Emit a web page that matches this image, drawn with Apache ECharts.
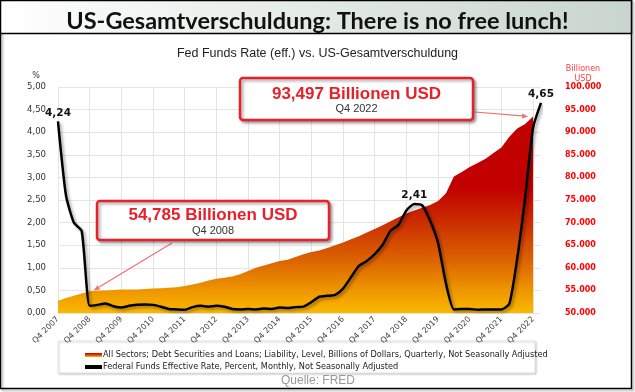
<!DOCTYPE html>
<html><head><meta charset="utf-8">
<script src="https://cdn.jsdelivr.net/npm/echarts@6/dist/echarts.min.js"></script>
<style>html,body{margin:0;padding:0;background:#fff}#c{width:635px;height:392px}</style>
</head><body><div id="c"></div>
<script>
const quarters = ['Q4 2007','Q1 2008','Q2 2008','Q3 2008','Q4 2008','Q1 2009','Q2 2009','Q3 2009','Q4 2009','Q1 2010','Q2 2010','Q3 2010','Q4 2010','Q1 2011','Q2 2011','Q3 2011','Q4 2011','Q1 2012','Q2 2012','Q3 2012','Q4 2012','Q1 2013','Q2 2013','Q3 2013','Q4 2013','Q1 2014','Q2 2014','Q3 2014','Q4 2014','Q1 2015','Q2 2015','Q3 2015','Q4 2015','Q1 2016','Q2 2016','Q3 2016','Q4 2016','Q1 2017','Q2 2017','Q3 2017','Q4 2017','Q1 2018','Q2 2018','Q3 2018','Q4 2018','Q1 2019','Q2 2019','Q3 2019','Q4 2019','Q1 2020','Q2 2020','Q3 2020','Q4 2020','Q1 2021','Q2 2021','Q3 2021','Q4 2021','Q1 2022','Q2 2022','Q3 2022','Q4 2022','Q1 2023'];
// Total debt, billions USD (quarterly)
const debt = [52700,53300,53800,54300,54785,
  54900,55000,55100,55200,
  55200,55200,55300,55400,
  55500,55600,55700,56000,
  56300,56700,57200,57600,
  57800,58100,58600,59300,
  60000,60500,61000,61500,
  61800,62400,63000,63500,
  63800,64400,65000,65600,
  66300,67000,67800,68600,
  69400,70300,71200,72000,
  72700,73300,73900,74800,
  76500,80200,81200,82300,
  83200,84100,85400,86600,
  89000,90800,91800,93497,null];
// Fed funds effective rate, %
const rate = [4.24,2.61,2.00,1.81,0.16,
  0.18,0.21,0.15,0.12,
  0.16,0.18,0.19,0.18,
  0.14,0.09,0.08,0.07,
  0.13,0.16,0.14,0.16,
  0.14,0.09,0.08,0.09,
  0.08,0.10,0.09,0.12,
  0.11,0.13,0.14,0.24,
  0.36,0.38,0.40,0.54,
  0.79,1.04,1.15,1.30,
  1.51,1.82,1.95,2.27,
  2.41,2.38,2.04,1.55,
  0.65,0.08,0.09,0.09,
  0.07,0.08,0.08,0.08,
  0.20,1.21,2.56,4.10,4.65];
const labeledIdx = [0,45,61];
const leftTicks = {min:0,max:5,interval:0.5};
const rightTicks = {min:50000,max:100000,interval:5000};
const debtName = 'All Sectors; Debt Securities and Loans; Liability, Level, Billions of Dollars, Quarterly, Not Seasonally Adjusted';
const rateName = 'Federal Funds Effective Rate, Percent, Monthly, Not Seasonally Adjusted';

const chart = echarts.init(document.getElementById('c'), null, {renderer:'canvas'});
const G = echarts.graphic;
const areaGrad = new G.LinearGradient(0, 87, 0, 313, [
  {offset:0,color:'#C00000'},{offset:0.45,color:'#C20000'},{offset:0.62,color:'#CD3400'},
  {offset:0.78,color:'#DE6800'},{offset:0.9,color:'#EE9600'},{offset:1,color:'#FBB800'}], true);
const legendGrad = new G.LinearGradient(0,0,0,1,[{offset:0,color:'#C00000'},{offset:0.5,color:'#E04000'},{offset:1,color:'#FFC000'}]);

const rateData = rate.map((v,i)=> labeledIdx.includes(i) ? {value:v, label:{show:true}} : v);

chart.setOption({
  animation:false,
  title:[
    {text:'US-Gesamtverschuldung: There is no free lunch!', left:'center', top:4,
     textStyle:{fontFamily:'Lato, "Open Sans", sans-serif', fontWeight:'bold', fontSize:23.5, color:'#111'}},
    {text:'Fed Funds Rate (eff.) vs. US-Gesamtverschuldung', left:'center', top:42,
     textStyle:{fontFamily:'"Liberation Sans", Arial, sans-serif', fontWeight:'normal', fontSize:12.5, color:'#222'}}
  ],
  grid:{left:58, right:94, top:87, bottom:79},
  legend:{
    orient:'vertical', left:80, top:346, itemGap:4, itemWidth:17, itemHeight:4,
    textStyle:{fontFamily:'"DejaVu Sans", Verdana, sans-serif', fontSize:8.2, color:'#222', padding:[0,0,0,-4]},
    data:[{name:debtName, icon:'rect', itemStyle:{color:legendGrad}},
          {name:rateName, icon:'rect', itemStyle:{color:'#000'}}]
  },
  xAxis:{type:'category', data:quarters, boundaryGap:false,
    axisLine:{show:false}, axisTick:{show:false},
    axisLabel:{interval:3, rotate:45, fontFamily:'"DejaVu Sans", Verdana, sans-serif', fontSize:8, color:'#404040', margin:5},
    splitLine:{show:true, interval:3, lineStyle:{color:'#E4E4E4', width:1}}},
  yAxis:[
    {type:'value', min:leftTicks.min, max:leftTicks.max, interval:leftTicks.interval,
     axisLine:{show:false}, axisTick:{show:false},
     axisLabel:{formatter:v=>v.toFixed(2).replace('.',','), fontFamily:'"DejaVu Sans", Verdana, sans-serif', fontSize:8.5, color:'#333', margin:12},
     splitLine:{lineStyle:{color:'#E4E4E4', width:1}}},
    {type:'value', min:rightTicks.min, max:rightTicks.max, interval:rightTicks.interval,
     axisLine:{show:false}, axisTick:{show:false},
     axisLabel:{formatter:v=>(v/1000).toFixed(3), fontFamily:'"DejaVu Sans", Verdana, sans-serif', fontSize:8, fontWeight:'bold', color:'#FF0000', margin:24},
     splitLine:{show:false}}
  ],
  series:[
    {name:debtName, type:'line', yAxisIndex:1, data:debt, showSymbol:false, symbol:'none',
     lineStyle:{width:0}, areaStyle:{color:areaGrad, opacity:1}, itemStyle:{color:legendGrad}, z:1},
    {name:rateName, type:'line', yAxisIndex:0, data:rateData, showSymbol:true, symbol:'circle', symbolSize:0.1, smooth:0.2,
     lineStyle:{color:'#000', width:2.5, shadowColor:'rgba(0,0,0,0.35)', shadowBlur:3, shadowOffsetX:2, shadowOffsetY:2},
     itemStyle:{color:'#000'},
     label:{show:false, position:'top', distance:3, formatter:p=>p.value.toFixed(2).replace('.',','),
       fontFamily:'"DejaVu Sans", Verdana, sans-serif', fontWeight:'bold', fontSize:10.5, color:'#111'}, z:3}
  ]
});

function arrow(from, to, color){
  const dx=to[0]-from[0], dy=to[1]-from[1], L=Math.hypot(dx,dy), ux=dx/L, uy=dy/L;
  const s=6, w=2.5;
  const bx=to[0]-ux*s, by=to[1]-uy*s;
  return [
    {type:'line', shape:{x1:from[0],y1:from[1],x2:bx,y2:by}, style:{stroke:color, lineWidth:1.2}, z:50},
    {type:'polygon', shape:{points:[[to[0],to[1]],[bx-uy*w,by+ux*w],[bx+uy*w,by-ux*w]]}, style:{fill:color}, z:50}
  ];
}
function box(x,y,w,h,big,small,bigY,smallY){
  return [
    {type:'rect', shape:{x:x,y:y,width:w,height:h,r:3}, style:{fill:'#fff', stroke:'#E8202A', lineWidth:2.5,
      shadowColor:'rgba(0,0,0,0.35)', shadowBlur:3, shadowOffsetX:2, shadowOffsetY:2}, z:60},
    {type:'text', x:x+w/2, y:bigY, style:{text:big, fill:'#E8202A', font:'bold 17px "Liberation Sans", Arial, sans-serif', align:'center', verticalAlign:'middle'}, z:61},
    {type:'text', x:x+w/2, y:smallY, style:{text:small, fill:'#333', font:'11px "Liberation Sans", Arial, sans-serif', align:'center', verticalAlign:'middle'}, z:61}
  ];
}
const p1 = chart.convertToPixel({xAxisIndex:0,yAxisIndex:1},[4, debt[4]]);
const p2 = chart.convertToPixel({xAxisIndex:0,yAxisIndex:1},[60, debt[60]]);
const arrowColor = '#F07070';
const graphics = [].concat(
  [
    {type:'rect', shape:{x:0.5,y:0.5,width:631,height:33}, style:{fill:new G.LinearGradient(0,0,1,0,[{offset:0,color:'#FFFFFF'},{offset:1,color:'#C8D5CC'}]), stroke:'#000', lineWidth:1.5}, z:-10},
    {type:'rect', shape:{x:0.5,y:0.5,width:631,height:388}, style:{fill:'none', stroke:'#000', lineWidth:1.5,
      shadowColor:'rgba(0,0,0,0.3)', shadowBlur:2, shadowOffsetX:2, shadowOffsetY:2}, z:-11},
    {type:'rect', shape:{x:58,y:341,width:477,height:32}, style:{fill:'#fff', stroke:'#E6E6E6', lineWidth:1,
      shadowColor:'rgba(0,0,0,0.2)', shadowBlur:2, shadowOffsetX:1, shadowOffsetY:1}, z:-5},
    {type:'text', x:36, y:76, style:{text:'%', fill:'#333', font:'8px "DejaVu Sans", sans-serif', align:'center', verticalAlign:'middle'}},
    {type:'text', x:583, y:69, style:{text:'Billionen', fill:'#FF4040', font:'8px "DejaVu Sans", sans-serif', align:'center', verticalAlign:'middle'}},
    {type:'text', x:583, y:79, style:{text:'USD', fill:'#FF4040', font:'8px "DejaVu Sans", sans-serif', align:'center', verticalAlign:'middle'}},
    {type:'text', x:318, y:381, style:{text:'Quelle: FRED', fill:'#999', font:'12px "Liberation Sans", Arial, sans-serif', align:'center', verticalAlign:'middle'}}
  ],
  arrow([172,243],[p1[0]+4,p1[1]-1],arrowColor),
  arrow([475,112],[p2[0]-5,p2[1]],arrowColor),
  box(97,201,232,39,'54,785 Billionen USD','Q4 2008',215,231),
  box(240,78,233,42,'93,497 Billionen USD','Q4 2022',94,109)
);
chart.setOption({graphic:graphics});
</script></body></html>
